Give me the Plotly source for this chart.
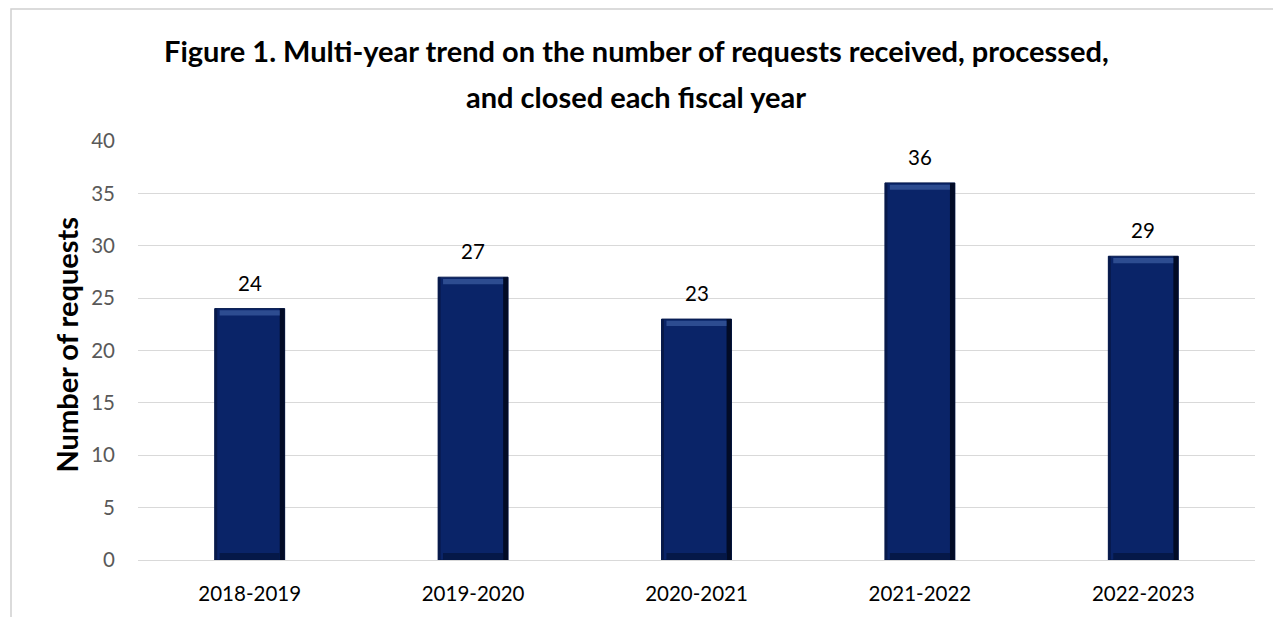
import plotly.graph_objects as go

years = ["2018-2019", "2019-2020", "2020-2021", "2021-2022", "2022-2023"]
requests = [24, 27, 23, 36, 29]
y_ticks = [0, 5, 10, 15, 20, 25, 30, 35, 40]

title_lines = ["Figure 1. Multi-year trend on the number of requests received, processed,",
               "and closed each fiscal year"]
y_title = "Number of requests"

FONT = "Lato, Open Sans, sans-serif"
BAR_W = 0.313
fig = go.Figure()
fig.add_trace(go.Bar(
    x=list(range(len(years))), y=requests, width=BAR_W,
    marker=dict(color="#0a2468", line=dict(color="#061a4d", width=1)),
    showlegend=False, hoverinfo="x+y",
))

annotations = []
for i, v in enumerate(requests):
    annotations.append(dict(x=i, y=v, xref="x", yref="y", text=str(v), showarrow=False,
                            yanchor="bottom", yshift=12,
                            font=dict(family=FONT, size=20.5, color="#000000")))

# title lines
TITLE_X = (636 - 138) / 1117
annotations.append(dict(x=TITLE_X, y=(563 - 50) / 422, xref="paper", yref="paper", text="<b>" + title_lines[0] + "</b>",
                        showarrow=False, xanchor="center", yanchor="middle",
                        font=dict(family=FONT, size=29, color="#000000")))
annotations.append(dict(x=TITLE_X, y=(563 - 96) / 422, xref="paper", yref="paper", text="<b>" + title_lines[1] + "</b>",
                        showarrow=False, xanchor="center", yanchor="middle",
                        font=dict(family=FONT, size=29, color="#000000")))
# y axis title
annotations.append(dict(x=(67 - 138) / 1117, y=(563 - 346) / 422, xref="paper", yref="paper",
                        text="<b>" + y_title + "</b>", textangle=-90, showarrow=False,
                        xanchor="center", yanchor="middle",
                        font=dict(family=FONT, size=29, color="#000000")))

# bevel decorations derived from the data
shapes = []
px_per_unit = 422 / 40.0
for i, v in enumerate(requests):
    x0, x1 = i - BAR_W / 2, i + BAR_W / 2
    edge = 0.022
    band = 7 / px_per_unit
    shapes.append(dict(type="rect", xref="x", yref="y", x0=x1 - edge, x1=x1, y0=0, y1=v,
                       fillcolor="#020b26", line=dict(width=0), layer="above"))
    shapes.append(dict(type="rect", xref="x", yref="y", x0=x0, x1=x0 + edge * 0.5, y0=0, y1=v,
                       fillcolor="#07194a", line=dict(width=0), layer="above"))
    shapes.append(dict(type="rect", xref="x", yref="y", x0=x0 + edge, x1=x1 - edge, y0=v - band, y1=v - band * 0.25,
                       fillcolor="#3a5a9e", opacity=0.75, line=dict(width=0), layer="above"))
    shapes.append(dict(type="rect", xref="x", yref="y", x0=x0 + edge, x1=x1 - edge, y0=0, y1=band,
                       fillcolor="#051848", line=dict(width=0), layer="above"))

# outer chart border
shapes.append(dict(type="rect", xref="paper", yref="paper",
                   x0=(11 - 138) / 1117, x1=1.2, y0=-0.3, y1=(563 - 8) / 422,
                   line=dict(color="#d0d0d0", width=1.5), fillcolor="rgba(0,0,0,0)", layer="below"))

fig.update_layout(
    width=1273, height=617,
    margin=dict(l=138, r=18, t=141, b=54),
    paper_bgcolor="#ffffff", plot_bgcolor="#ffffff",
    shapes=shapes, annotations=annotations,
    xaxis=dict(tickmode="array", tickvals=list(range(len(years))), ticktext=years,
               range=[-0.5, len(years) - 0.5],
               tickfont=dict(family=FONT, size=20.5, color="#000000"),
               showgrid=False, showline=True, linecolor="#d9d9d9", linewidth=1,
               ticks="", ticklabelstandoff=15, zeroline=False),
    yaxis=dict(range=[0, 40], tickvals=y_ticks,
               tickfont=dict(family=FONT, size=20.5, color="#595959"),
               showgrid=True, gridcolor="#d9d9d9", gridwidth=1, zeroline=False,
               ticks="", ticklabelstandoff=22),
    font=dict(family=FONT),
)

fig.write_html("out.html")
